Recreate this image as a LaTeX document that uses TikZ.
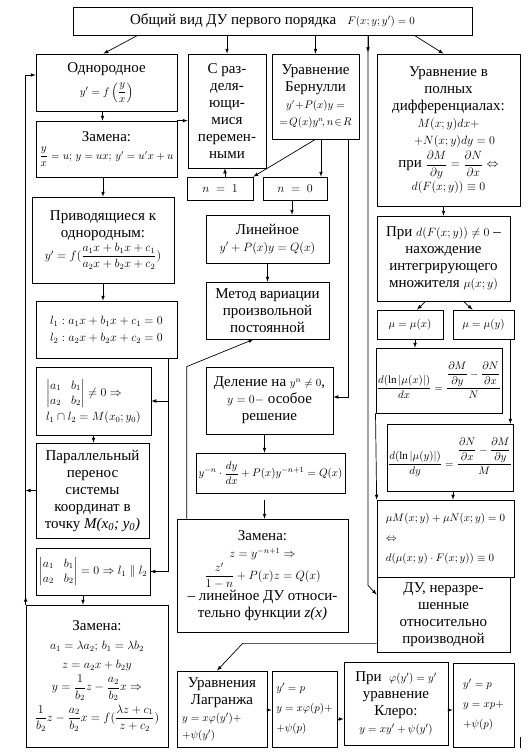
\documentclass[tikz,border=0pt]{standalone}
\usepackage{amsmath,amssymb}
\usepackage{fontspec}
\setmainfont{Liberation Serif}
\usetikzlibrary{arrows,calc}
\newcommand{\fm}[1]{{\fontsize{12}{15}\selectfont$#1$}}
\newcommand{\fs}[1]{{\fontsize{11}{13}\selectfont$#1$}}

\begin{document}
\begin{tikzpicture}
  [x=1pt,y=-1pt,line width=0.7pt,>=latex,
   every node/.style={rectangle,draw,align=center,inner sep=1pt,font=\fontsize{15}{17}\selectfont},
   sz/.style 2 args={minimum width=#1,minimum height=#2},
   lft/.style={align=left},
   wide/.style={font=\fontsize{15}{20}\selectfont}]
  \useasboundingbox (0,0) rectangle (528,753);
  % top row
  \node (top) [sz={399pt}{28pt}] at (272.5,21) {Общий вид ДУ первого порядка \ \ \fs{F(x;y;y')=0}};
  \node (odn) [sz={141pt}{57pt}] at (106.5,82.5) {Однородное\\[6pt] \fs{y'=f\left(\dfrac{y}{x}\right)}};
  \node (razd) [sz={78pt}{114pt}] at (227,111) {С раз-\\деля-\\ющи-\\мися\\перемен-\\ными};
  \node (bern) [sz={87pt}{85pt}] at (315.5,96.5) {Уравнение\\Бернулли\\ {\fontsize{10.5}{13}\selectfont$y'\!+\!P(x)y=$}\\
    {\fontsize{10.5}{13}\selectfont$=\!Q(x)y^n\!,n\!\in\! R$}};
  \node (poln) [sz={143pt}{152pt}] at (448.5,130) {Уравнение в\\полных\\дифференциалах:\\
    \fm{M(x;y)dx+}\hspace*{20pt}\\ \hspace*{12pt}\fm{+N(x;y)dy=0}\\[3pt]
    при \fm{\dfrac{\partial M}{\partial y}=\dfrac{\partial N}{\partial x}\Leftrightarrow}\\[2pt] \fm{d(F(x;y))\equiv0}};
  % left column
  \node (zam1) [sz={141pt}{56pt}] at (106.5,149) {Замена:\\[1pt] {\fontsize{10.5}{13}\selectfont$\dfrac{y}{x}=u;\,y=ux;\,y'=u'x+u$}};
  \node (priv) [sz={142pt}{86pt}] at (103,240) {Приводящиеся к\\однородным:\\[2pt] \fm{y'=f(\dfrac{a_1x+b_1x+c_1}{a_2x+b_2x+c_2})}};
  \node (ll) [sz={141pt}{57pt},lft] at (106.5,329.5) {\fm{l_1:a_1x+b_1x+c_1=0}\\ \fm{l_2:a_2x+b_2x+c_2=0}};
  \node (det1) [sz={115pt}{68pt},lft] at (93.5,401) {\fm{\begin{vmatrix}a_1&b_1\\a_2&b_2\end{vmatrix}\neq0\Rightarrow}\\[2pt] \fm{l_1\cap l_2=M(x_0;y_0)}};
  \node (par) [sz={113pt}{95pt}] at (92.5,490.5) {Параллельный\\перенос\\системы\\координат в\\точку \textit{M(x\textsubscript{0}; y\textsubscript{0})}};
  \node (det2) [sz={114pt}{47pt}] at (93,571.5) {\fm{\begin{vmatrix}a_1&b_1\\a_2&b_2\end{vmatrix}=0\Rightarrow l_1\parallel l_2}};
  \node (zam3) [sz={142pt}{142pt}] at (97,676) {Замена:\\[2pt] \fm{a_1=\lambda a_2;\,b_1=\lambda b_2}\\[2pt] \fm{z=a_2x+b_2y}\\[3pt]
    \fm{y=\dfrac{1}{b_2}z-\dfrac{a_2}{b_2}x\Rightarrow}\\[3pt] \fm{\dfrac{1}{b_2}z-\dfrac{a_2}{b_2}x=f(\dfrac{\lambda z+c_1}{z+c_2})}};
  % middle column
  \node (n1) [sz={66pt}{23pt}] at (220,188.5) {\fm{n\;=\;1}};
  \node (n0) [sz={64pt}{23pt}] at (295,188.5) {\fm{n\;=\;0}};
  \node (lin) [sz={123pt}{48pt}] at (267.5,239) {Линейное\\ \fm{y'+P(x)y=Q(x)}};
  \node (met) [sz={123pt}{57pt}] at (267.5,310.5) {Метод вариации\\произвольной\\постоянной};
  \node (del) [sz={127pt}{67pt}] at (269.5,400.5) {Деление на \fs{y^n\neq0},\\ \fm{y=0-} особое\\решение};
  \node (yeq) [sz={149pt}{40pt}] at (270.5,473) {\fs{y^{-n}\cdot\dfrac{dy}{dx}+P(x)y^{-n+1}=Q(x)}};
  \node (zam2) [sz={171pt}{113pt}] at (262.5,575.5) {Замена:\\ \fm{z=y^{-n+1}\Rightarrow}\\[2pt] \fm{\dfrac{z'}{1-n}+P(x)z=Q(x)}\\
    -- линейное ДУ относи-\\тельно функции \textit{z(x)}};
  % right column
  \node (pri) [sz={133pt}{85pt}] at (443.5,258.5) {При \fm{d(F(x;y))\neq0} --\\нахождение\\интегрирующего\\множителя \fm{\mu(x;y)}};
  \node (mux) [sz={66pt}{29pt}] at (410,324.5) {\fs{\mu=\mu(x)}};
  \node (muy) [sz={61pt}{29pt}] at (483.5,324.5) {\fs{\mu=\mu(y)}};
  \node (fx) [sz={124pt}{65pt}] at (439,380.5) {\fs{\dfrac{d(\ln|\mu(x)|)}{dx}=\dfrac{\dfrac{\partial M}{\partial y}-\dfrac{\partial N}{\partial x}}{N}}};
  \node (fy) [sz={126pt}{67pt}] at (450,457.5) {\fs{\dfrac{d(\ln|\mu(y)|)}{dy}=\dfrac{\dfrac{\partial N}{\partial x}-\dfrac{\partial M}{\partial y}}{M}}};
  \node (fin) [sz={137pt}{77pt},lft,wide] at (445.5,538.5) {\fs{\mu M(x;y)+\mu N(x;y)=0}\\ \fs{\Leftrightarrow}\\ \fs{d(\mu(x;y)\cdot F(x;y))\equiv0}};
  \node (neraz) [sz={133pt}{75pt}] at (443.5,614.5) {ДУ, неразре-\\шенные\\относительно\\производной};
  % bottom row
  \node (lagr) [sz={90pt}{76pt}] at (222,709) {Уравнения\\Лагранжа\\ \makebox[80pt][l]{\fs{y=x\varphi(y')+}}\\ \makebox[80pt][l]{\fs{+\psi(y')}}};
  \node (lp) [sz={65pt}{76pt},lft,wide] at (304.5,709) {\fs{y'=p}\\ \fs{y=x\varphi(p)+}\\ \fs{+\psi(p)}};
  \node (kler) [sz={104pt}{83pt}] at (396,703.5) {При \ \fs{\varphi(y')=y'}\\уравнение\\Клеро:\\ \fs{y=xy'+\psi(y')}};
  \node (kp) [sz={61pt}{84pt},lft,wide] at (483.5,705) {\fs{y'=p}\\ \fs{y=xp+}\\ \fs{+\psi(p)}};

  \coordinate (xr) at (368,0);
  \coordinate (xl) at (168,0);
  \coordinate (xd) at (83,0);
  % straight links
  \foreach \from/\to in {razd.north |- top.south/razd.north, bern.north |- top.south/bern.north,
      zam1.south -| priv.north/priv.north, priv.south/priv.south |- ll.north,
      det1.south/det1.south |- par.north, xd |- det2.south/xd |- zam3.north,
      zam1.north east/zam1.north east -| razd.west, par.west/par.west -| zam3.west,
      bern.south/n1.north east, lin.south/met.north, xl |- det1.east/det1.east,
      pri.north |- poln.south/pri.north, fx.south west/fin.north west}
    \draw[->] (\from) -- (\to);
  \draw[->] ($(top.south west)+(65,0)$) -- ($(odn.north)+(-3,0)$);
  \draw[->] ($(top.south east)+(-58,0)$) -- ($(poln.north)+(-5,0)$);
  \draw[->] (xr |- top.south) -- ++(0,17);
  \draw[->] (xr |- top.south) -- ++(0,550) -- ($(neraz.north west)+(0,18)$);
  \draw[->] ($(odn.south)+(-4,0)$) -- ($(zam1.north)+(-4,0)$);
  \draw[->] (xl |- ll.south) |- (det2.east);
  \draw[->] (zam3.north west) -- ++(0,-8);
  \draw[->] (zam3.north west) |- ($(odn.west)+(0,-7.5)$);
  \draw[->] ($(n1.north)+(5,0)$) -- ($(razd.south)+(-2,0)$);
  \draw[->] ($(bern.south)+(5.5,0)$) -- ($(n0.north)+(26,0)$);
  \draw[->] ($(bern.south east)+(-11,0)$) |- ($(del.east)+(0,-3.5)$);
  \draw[->] ($(n0.south)+(-3,0)$) -- ($(lin.north)+(24.5,0)$);
  \draw[->] ($(zam2.north west)+(10,0)$) -- ++(0,-152) -- ($(met.south)+(-14,0)$);
  \draw[->] ($(del.south)+(-5,0)$) -- ($(yeq.north)+(-6,0)$);
  \draw[->] ($(yeq.south)+(-6,7)$) -- ($(zam2.north)+(2,0)$);
  \draw[->] ($(neraz.south west)+(0,-9)$) -- ++(-134,0) -- ($(lagr.north)+(-5,0)$);
  \draw[->] ($(pri.south)+(-18,0)$) -- ($(mux.north)+(7,0)$);
  \draw[->] ($(pri.south)+(20,0)$) -- ($(muy.north)+(-11,0)$);
  \draw[->] ($(mux.south)+(5,0)$) -- ($(fx.north)+(-24,0)$);
  \draw[->] ($(muy.south east)+(-4,0)$) -- ($(fy.north east)+(-3,0)$);
  \draw[->] ($(fy.south)+(3,0)$) -- ($(fin.north)+(7.5,0)$);
  \draw[->] ($(lagr.east)+(0,1)$) -- ($(lp.west)+(0,1)$);
  \draw[->] ($(lp.east)+(0,10)$) -- ($(kler.west)+(0,15.5)$);
  \draw[->] ($(kler.east)+(0,6.5)$) -- ($(kp.west)+(0,5)$);
  \draw[line width=1.5pt] ($(kp.south east)+(6,-10)$) -- ++(0,11);
\end{tikzpicture}
\end{document}
